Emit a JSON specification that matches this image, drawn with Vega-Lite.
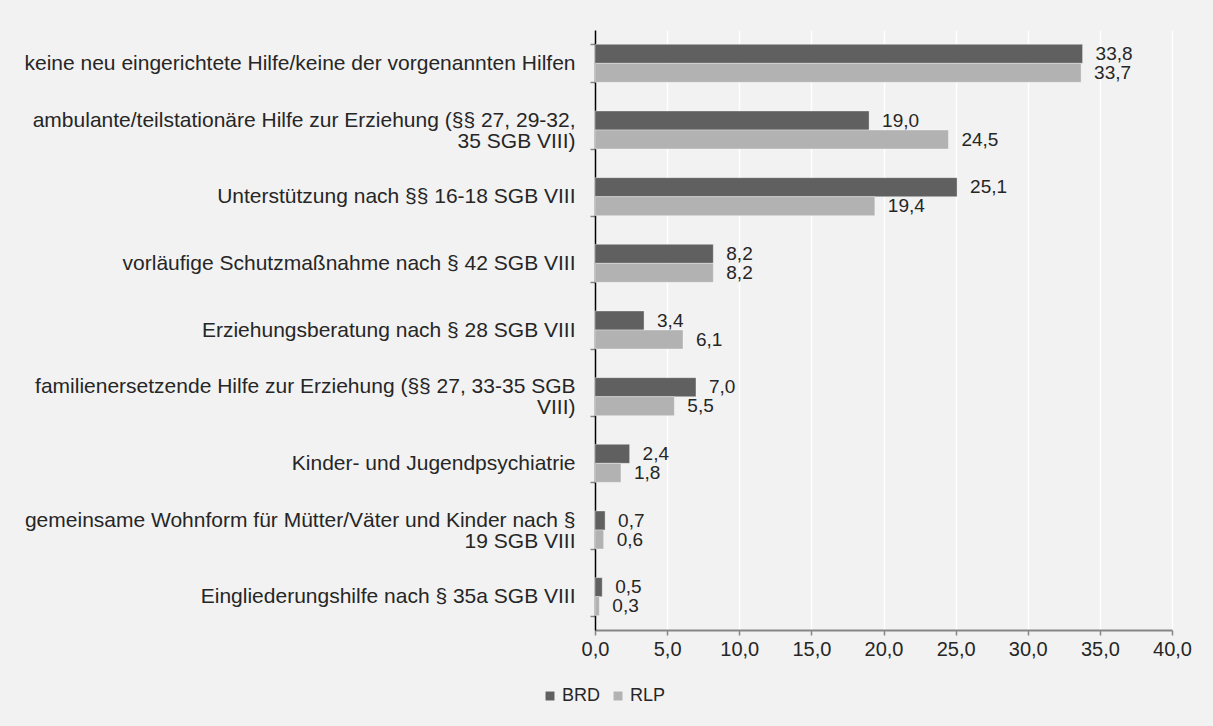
{
  "$schema": "https://vega.github.io/schema/vega-lite/v6.json",
  "width": 577,
  "height": 600,
  "autosize": {"type": "none"},
  "padding": {"left": 595, "top": 30, "right": 41, "bottom": 96},
  "background": "#f2f2f2",
  "config": {
    "locale": {"number": {"decimal": ",", "thousands": ".", "grouping": [3], "currency": ["", " €"]}},
    "font": "Liberation Sans",
    "view": {"stroke": null},
    "text": {"font": "Liberation Sans"}
  },
  "data": {
    "values": [
      {"Kategorie": "keine neu eingerichtete Hilfe/keine der vorgenannten Hilfen", "Gebiet": "BRD", "Anteil": 33.8},
      {"Kategorie": "keine neu eingerichtete Hilfe/keine der vorgenannten Hilfen", "Gebiet": "RLP", "Anteil": 33.7},
      {"Kategorie": "ambulante/teilstationäre Hilfe zur Erziehung (§§ 27, 29-32,\n35 SGB VIII)", "Gebiet": "BRD", "Anteil": 19.0},
      {"Kategorie": "ambulante/teilstationäre Hilfe zur Erziehung (§§ 27, 29-32,\n35 SGB VIII)", "Gebiet": "RLP", "Anteil": 24.5},
      {"Kategorie": "Unterstützung nach §§ 16-18 SGB VIII", "Gebiet": "BRD", "Anteil": 25.1},
      {"Kategorie": "Unterstützung nach §§ 16-18 SGB VIII", "Gebiet": "RLP", "Anteil": 19.4},
      {"Kategorie": "vorläufige Schutzmaßnahme nach § 42 SGB VIII", "Gebiet": "BRD", "Anteil": 8.2},
      {"Kategorie": "vorläufige Schutzmaßnahme nach § 42 SGB VIII", "Gebiet": "RLP", "Anteil": 8.2},
      {"Kategorie": "Erziehungsberatung nach § 28 SGB VIII", "Gebiet": "BRD", "Anteil": 3.4},
      {"Kategorie": "Erziehungsberatung nach § 28 SGB VIII", "Gebiet": "RLP", "Anteil": 6.1},
      {"Kategorie": "familienersetzende Hilfe zur Erziehung (§§ 27, 33-35 SGB\nVIII)", "Gebiet": "BRD", "Anteil": 7.0},
      {"Kategorie": "familienersetzende Hilfe zur Erziehung (§§ 27, 33-35 SGB\nVIII)", "Gebiet": "RLP", "Anteil": 5.5},
      {"Kategorie": "Kinder- und Jugendpsychiatrie", "Gebiet": "BRD", "Anteil": 2.4},
      {"Kategorie": "Kinder- und Jugendpsychiatrie", "Gebiet": "RLP", "Anteil": 1.8},
      {"Kategorie": "gemeinsame Wohnform für Mütter/Väter und Kinder nach §\n19 SGB VIII", "Gebiet": "BRD", "Anteil": 0.7},
      {"Kategorie": "gemeinsame Wohnform für Mütter/Väter und Kinder nach §\n19 SGB VIII", "Gebiet": "RLP", "Anteil": 0.6},
      {"Kategorie": "Eingliederungshilfe nach § 35a SGB VIII", "Gebiet": "BRD", "Anteil": 0.5},
      {"Kategorie": "Eingliederungshilfe nach § 35a SGB VIII", "Gebiet": "RLP", "Anteil": 0.3}
    ]
  },
  "encoding": {
    "y": {
      "field": "Kategorie",
      "type": "nominal",
      "sort": null,
      "title": null,
      "scale": {"paddingInner": 0.43, "paddingOuter": 0.215},
      "axis": {
        "labelExpr": "split(datum.label, '\\n')",
        "labelFontSize": 21,
        "labelLineHeight": 21,
        "labelColor": "#262626",
        "labelLimit": 700,
        "labelPadding": 15,
        "labelOffset": {"condition": {"test": "indexof(datum.label, '\\n') >= 0", "value": -10}, "value": 0},
        "tickBand": "extent",
        "tickSize": 5,
        "tickColor": "#868686",
        "tickWidth": 1.5,
        "domainColor": "#000000",
        "domainWidth": 1.5,
        "grid": false
      }
    },
    "yOffset": {
      "field": "Gebiet",
      "type": "nominal",
      "sort": ["BRD", "RLP"],
      "scale": {"paddingInner": 0, "paddingOuter": 0}
    },
    "x": {
      "field": "Anteil",
      "type": "quantitative",
      "title": null,
      "scale": {"domain": [0, 40], "nice": false},
      "axis": {
        "values": [0, 5, 10, 15, 20, 25, 30, 35, 40],
        "format": ".1f",
        "labelFlush": false,
        "labelFontSize": 20,
        "labelColor": "#262626",
        "labelPadding": 4,
        "tickSize": 5,
        "tickColor": "#868686",
        "tickWidth": 1.5,
        "domainColor": "#868686",
        "domainWidth": 2,
        "grid": true,
        "gridColor": "#ffffff",
        "gridWidth": 1.5
      }
    }
  },
  "layer": [
    {
      "mark": {"type": "bar", "stroke": "#ffffff", "strokeOpacity": 0.35, "strokeWidth": 1},
      "encoding": {
        "color": {
          "field": "Gebiet",
          "type": "nominal",
          "scale": {"domain": ["BRD", "RLP"], "range": ["#606060", "#b2b2b2"]},
          "legend": {
            "title": null,
            "orient": "none",
            "direction": "horizontal",
            "legendX": -54,
            "legendY": 657,
            "symbolType": "square",
            "symbolSize": 80,
            "symbolStrokeWidth": 0,
            "labelFontSize": 18,
            "labelColor": "#262626",
            "labelOffset": 3,
            "columnPadding": 8
          }
        }
      }
    },
    {
      "mark": {"type": "text", "align": "left", "baseline": "middle", "dx": 13, "fontSize": 19, "color": "#262626"},
      "encoding": {
        "text": {"field": "Anteil", "type": "quantitative", "format": ".1f"}
      }
    }
  ]
}
